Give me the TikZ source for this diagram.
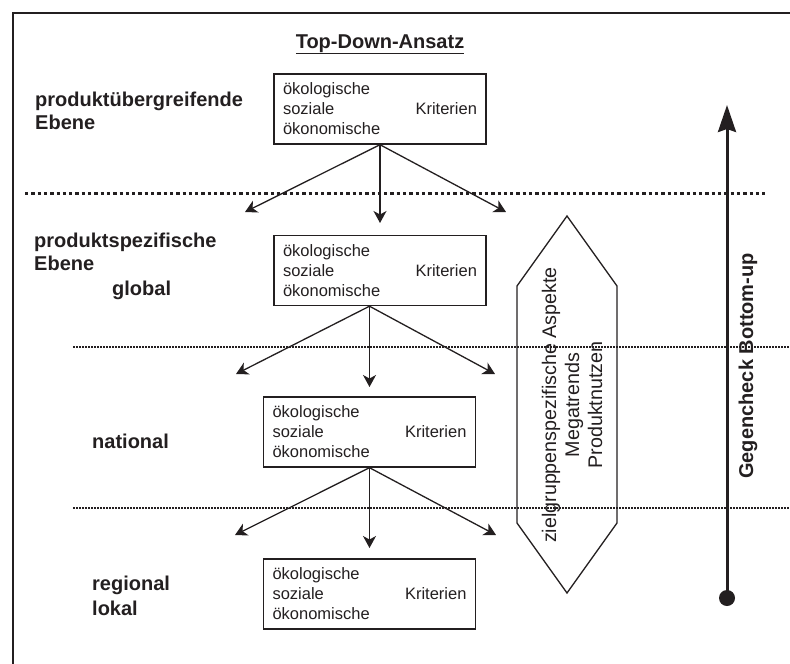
\documentclass[tikz,border=0pt]{standalone}
\usepackage{fontspec}
\setmainfont{Liberation Sans}
\usetikzlibrary{positioning, calc, arrows.meta}
\definecolor{ink}{HTML}{231F20}
\tikzset{
  kbox/.style={draw, line width=1.4pt, minimum width=212pt, minimum height=70pt, inner sep=0pt, font=\fontsize{16.5}{20}\selectfont},
  ebene/.style={anchor=base west, align=left, inner sep=0pt, font=\fontsize{20}{23}\selectfont\bfseries},
  pfeil/.style={line width=1.3pt, -{Stealth[length=12pt,width=13pt,inset=3.5pt]}},
  grenze/.style={line width=1.3pt, dash pattern=on 1.5pt off 1.5pt},
}
\newcommand{\kriterien}{\parbox{194pt}{ökologische\\soziale\hfill Kriterien\\ökonomische}}

\begin{document}
\begin{tikzpicture}[x=1pt, y=-1pt, color=ink]
        \useasboundingbox (0,0) rectangle (790,664);
        %rahmen
        \draw[line width=2pt] (13,664) -- (13,13) -- (790,13);
        %titel
        \node[anchor=base, inner sep=0pt, font=\fontsize{20}{23}\selectfont\bfseries] (titel) at (380,48) {\underline{Top-Down-Ansatz}};
        %ebenen (base = letzte zeile)
        \node[ebene] (ueber) at (35,129) {produktübergreifende\\Ebene};
        \node[ebene] (spez) at (34,270) {produktspezifische\\Ebene};
        \node[ebene] (global) at (112,295) {global};
        \node[ebene] (national) at (92,448) {national};
        \node[ebene] (regional) at (92,615) {regional\\[2pt]lokal};
        %trennlinien
        \draw[line width=3pt, dash pattern=on 3.3pt off 3pt] (25,193) -- (767,193);
        \draw[grenze] (73,347) -- (790,347);
        \draw[grenze] (73,508) -- (790,508);
        %kriterien
        \node[kbox] (b1) at (380,109) {\kriterien};
        \node[kbox] (b2) at (380,270.5) {\kriterien};
        \node[kbox] (b3) at (369.5,432) {\kriterien};
        \node[kbox] (b4) at (369.5,594) {\kriterien};
        %pfeile
        \coordinate (l1) at (245,212);
        \coordinate (m1) at (380,223);
        \coordinate (r1) at (506,212);
        \coordinate (l2) at (236,374);
        \coordinate (m2) at (369.5,387);
        \coordinate (r2) at (495,374);
        \coordinate (l3) at (235,535);
        \coordinate (m3) at (369.5,548);
        \coordinate (r3) at (496,535);
        \foreach \z in {l1, m1, r1}
            \draw[pfeil] (b1.south) -- (\z);
        \foreach \z in {l2, m2, r2}
            \draw[pfeil] (b2.south -| b3.north) -- (\z);
        \foreach \z in {l3, m3, r3}
            \draw[pfeil] (b3.south) -- (\z);
        %sechseck
        \draw[line width=1.3pt] (567,216) -- (617,286) -- (617,523) -- (567,593) -- (517,523) -- (517,286) -- cycle;
        \node[rotate=90, align=center, inner sep=0pt, font=\fontsize{19.7}{23}\selectfont] (aspekte) at (572,405) {zielgruppenspezifische Aspekte\\Megatrends\\Produktnutzen};
        %gegencheck
        \node[circle, fill, inner sep=0pt, minimum size=16pt] (punkt) at (727,598) {};
        \coordinate (spitze) at (727,105);
        \draw[line width=3pt, -{Stealth[length=27pt,width=18pt,inset=3pt]}] (punkt.center) -- (spitze);
        \node[rotate=90, inner sep=0pt, font=\fontsize{20}{23}\selectfont\bfseries] (gegen) at (748,366) {Gegencheck Bottom-up};
\end{tikzpicture}
\end{document}
